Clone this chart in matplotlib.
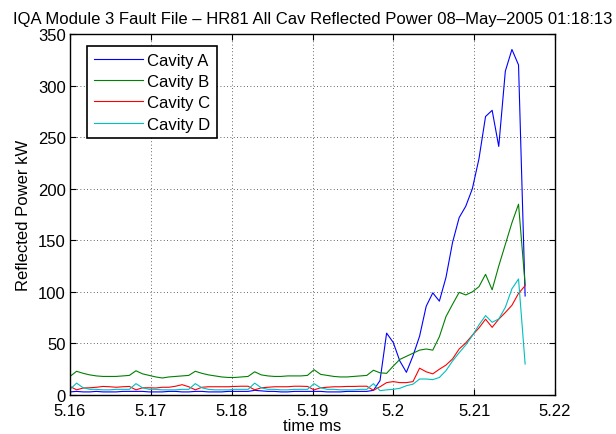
import numpy as np
import matplotlib
matplotlib.use('Agg')
import matplotlib.pyplot as plt

plt.rcParams['font.family'] = ['Liberation Sans', 'DejaVu Sans']

# ---- data ----
t_start = 5.16          # ms
t_step = 0.000816       # ms per sample
n_samples = 70
time_ms = t_start + t_step * np.arange(n_samples)

cavity_a = [3, 3.5, 3, 3, 3.5, 3, 3, 3, 3.5, 3.5,
            3.5, 3.5, 3, 3, 3, 3.5, 3.5, 3, 3, 3.5,
            3.5, 3, 3, 3, 3.5, 3.5, 3.5, 3.5, 4.5, 4,
            3.5, 3.5, 3, 3, 3.5, 3.5, 3.5, 3.5, 3.5, 3,
            3, 3, 3.5, 3.5, 3.5, 3.5,
            4.5, 14, 60, 51, 33, 22, 38, 57, 86, 99, 91, 114, 148, 172,
            183, 200, 229, 270, 276, 241, 314, 335, 320, 96]

cavity_b = [18, 23, 21, 19.5, 18.5, 18, 18, 18, 18.5, 19,
            23.5, 20.5, 19, 17.5, 16.5, 17.5, 18, 18.5, 19, 23,
            21, 19.5, 18.5, 17.5, 17, 17, 17.5, 18, 22.5, 19.5,
            18.5, 18, 18, 18.5, 18.5, 18.5, 19, 24.5, 20, 19,
            18, 17.5, 17.5, 18, 18.5, 19, 24,
            21.5, 21, 28, 34.5, 37.5, 40.5, 43.5, 44.6, 43.5, 56.5, 76, 88,
            99.5, 97, 100, 105, 117, 102, 125, 146, 167, 185, 107]

cavity_c = [8.3,
            5, 6.8, 7, 7.5, 8.3, 8, 7.5, 8, 8.3,
            5, 7, 7, 6.8, 7.5, 7.5, 8.5, 10, 8,
            5, 7.5, 8, 8, 8, 8, 8.3, 8.5, 8.5,
            5, 7, 7.5, 8, 8, 8, 8.5, 8.5, 8.3,
            5, 7, 7.5, 8, 8, 8.3, 8.3, 8.5, 8.5,
            4.5,
            8, 12, 13, 12, 12, 13, 26, 22.5, 20.5, 25, 29, 35, 44.6, 50.5,
            58, 65, 73.5, 65.6, 73.5, 80, 87, 98.5, 106]

cavity_d = [5.5,
            11.5, 7, 5.5, 5.5, 5, 5, 5.5, 5.5, 5.5,
            11, 7, 5.5, 5.5, 5, 5, 5, 5.5, 5.5,
            11, 7, 5.5, 5, 5, 5, 5.5, 5.5, 5.5,
            11.5, 7, 5.5, 5.5, 5, 5, 5.5, 5.5, 5.5,
            11, 7, 5.5, 5.5, 5, 5, 5, 5.5, 5.5,
            11,
            4.2, 5, 5.5, 6.5, 9, 10.5, 15.5, 15.5, 14.9, 17, 23.6, 33, 41,
            48.5, 57.5, 68, 77, 70.5, 73.7, 85, 103, 112.5, 30]

series_labels = ['Cavity A', 'Cavity B', 'Cavity C', 'Cavity D']
series_colors = ['#0000ff', '#008000', '#ff0000', '#00bfbf']

x_ticks = [5.16, 5.17, 5.18, 5.19, 5.2, 5.21, 5.22]
x_tick_labels = ['5.16', '5.17', '5.18', '5.19', '5.2', '5.21', '5.22']
y_ticks = [0, 50, 100, 150, 200, 250, 300, 350]

title = ('IQA Module 3 Fault File \u2013 HR81 All Cav Reflected Power '
         '08\u2013May\u20132005 01:18:13')

FS = 12

# ---- figure ----
fig = plt.figure(figsize=(6.16, 4.35), dpi=100)
ax = fig.add_axes([70 / 616, 39 / 435, 485 / 616, 361 / 435])

for vals, lab, col in zip([cavity_a, cavity_b, cavity_c, cavity_d],
                          series_labels, series_colors):
    ax.plot(time_ms, vals, color=col, lw=0.8, label=lab)

ax.set_xlim(5.16, 5.22)
ax.set_ylim(0, 350)
ax.set_xticks(x_ticks)
ax.set_xticklabels(x_tick_labels)
ax.set_yticks(y_ticks)
ax.grid(True, linestyle=(0, (1, 3)), color='#333333', lw=0.6)
ax.tick_params(direction='in', top=True, right=True, length=4, width=0.8,
               labelsize=FS)
ax.tick_params(axis='x', pad=6)
ax.tick_params(axis='y', pad=3)
for s in ax.spines.values():
    s.set_linewidth(1.0)

ax.set_xlabel('time ms', fontsize=FS, labelpad=0)
ax.set_ylabel('Reflected Power kW', fontsize=FS, labelpad=5)
ax.set_title(title, fontsize=FS, pad=8)

leg = ax.legend(loc='upper left', bbox_to_anchor=(0.035, 0.967),
                fontsize=FS, frameon=True, fancybox=False, shadow=False,
                handlelength=2.95, handletextpad=0.25, labelspacing=0.38,
                borderpad=0.4, borderaxespad=0)
leg.get_frame().set_edgecolor('k')
leg.get_frame().set_linewidth(1.2)
leg.get_frame().set_alpha(1)

fig.savefig('out.png', dpi=100)
